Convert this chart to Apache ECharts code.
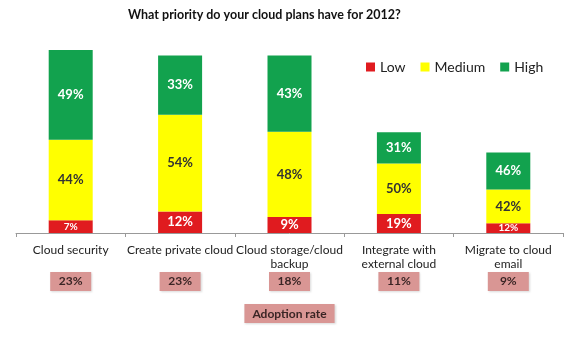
<!DOCTYPE html>
<html><head><meta charset="utf-8">
<script src="https://cdn.jsdelivr.net/npm/echarts@6/dist/echarts.min.js"></script>
<style>html,body{margin:0;padding:0;background:#fff}#c{width:580px;height:337px}</style>
</head><body><div id="c"></div>
<script>
var titleText = 'What priority do your cloud plans have for 2012?';
var categories = ['Cloud security', 'Create private cloud', 'Cloud storage/cloud\nbackup', 'Integrate with\nexternal cloud', 'Migrate to cloud\nemail'];
var low = [7, 12, 9, 19, 12];
var medium = [44, 54, 48, 50, 42];
var high = [49, 33, 43, 31, 46];
// relative total bar heights as drawn in the picture
var barHeight = [100, 97, 97, 55, 44];
var adoption = [23, 23, 18, 11, 9];

var FONT = 'Lato';
function seg(arr, i) {
  var sum = low[i] + medium[i] + high[i];
  return arr[i] / sum * barHeight[i];
}
function mk(arr, smallRed) {
  return arr.map(function (v, i) {
    var d = { value: seg(arr, i), pct: v };
    if (smallRed && v <= 12 && barHeight[i] < 60 || smallRed && v < 8) d.label = { fontSize: 10 };
    return d;
  });
}
var labelFmt = function (p) { return p.data.pct + '%'; };

var chart = echarts.init(document.getElementById('c'));
chart.setOption({
  animation: false,
  textStyle: { fontFamily: FONT },
  title: {
    text: titleText, left: 123, top: 3,
    textStyle: { fontFamily: FONT, fontSize: 12.5, fontWeight: 'bold', color: '#111' }
  },
  legend: {
    left: 361, top: 55, icon: 'rect', itemWidth: 9, itemHeight: 9, itemGap: 15,
    textStyle: { fontFamily: FONT, fontSize: 14, color: '#222' },
    data: ['Low', 'Medium', 'High']
  },
  grid: { left: 16, right: 17, top: 50, bottom: 104 },
  xAxis: [{
    type: 'category', data: categories,
    axisLine: { lineStyle: { color: '#999' } },
    axisTick: { show: true, length: 4, lineStyle: { color: '#999' } },
    axisLabel: { fontFamily: FONT, fontSize: 12, color: '#222', margin: 10, lineHeight: 14, interval: 0 }
  }, {
    type: 'category', data: adoption, position: 'bottom', offset: 0,
    axisLine: { show: false }, axisTick: { show: false },
    axisLabel: {
      interval: 0, margin: 39,
      formatter: function (v) { return '{b|' + v + '%}'; },
      rich: { b: { width: 41, height: 19, lineHeight: 19, align: 'center', backgroundColor: '#d99694',
        fontFamily: FONT, fontSize: 12, fontWeight: 'bold', color: '#3a2525',
        shadowColor: 'rgba(0,0,0,0.15)', shadowOffsetX: 1, shadowOffsetY: 1, shadowBlur: 2 } }
    },
    name: 'Adoption rate', nameLocation: 'middle', nameGap: 71,
    nameTextStyle: {
      fontFamily: FONT, fontSize: 12, fontWeight: 'bold', color: '#3a2525',
      backgroundColor: '#d99694', padding: [4, 8, 3, 8],
      shadowColor: 'rgba(0,0,0,0.15)', shadowOffsetX: 1, shadowOffsetY: 1, shadowBlur: 2
    }
  }],
  yAxis: { type: 'value', min: 0, max: 100, show: false },
  series: [{
    name: 'Low', type: 'bar', stack: 's', barWidth: 44, data: mk(low, true),
    itemStyle: { color: '#e01b1f' },
    label: { show: true, formatter: labelFmt, color: '#fff', fontFamily: FONT, fontWeight: 'bold', fontSize: 13 }
  }, {
    name: 'Medium', type: 'bar', stack: 's', data: mk(medium),
    itemStyle: { color: '#ffff00' },
    label: { show: true, formatter: labelFmt, color: '#333', fontFamily: FONT, fontWeight: 'bold', fontSize: 13 }
  }, {
    name: 'High', type: 'bar', stack: 's', data: mk(high),
    itemStyle: { color: '#12a24e' },
    label: { show: true, formatter: labelFmt, color: '#fff', fontFamily: FONT, fontWeight: 'bold', fontSize: 13 }
  }]
});
</script></body></html>
